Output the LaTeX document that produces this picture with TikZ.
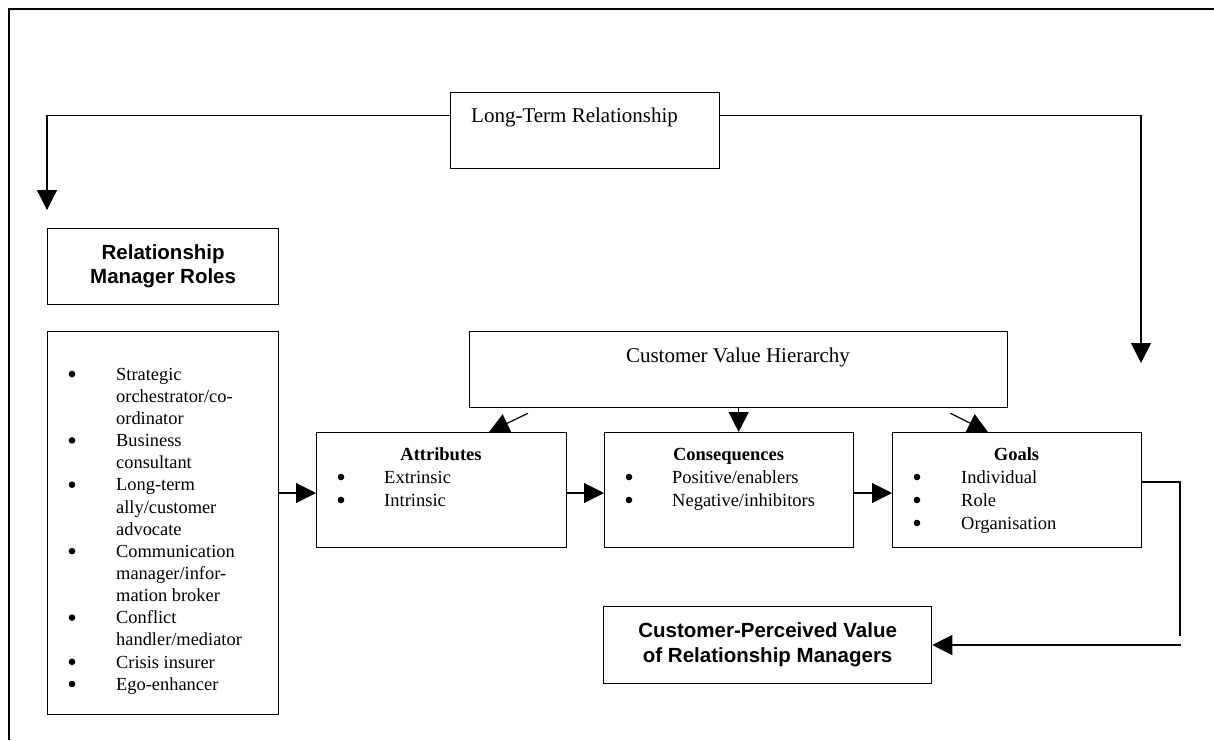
\documentclass[tikz,border=0pt]{standalone}
\usepackage{fontspec}
\setmainfont{Liberation Serif}
\newfontfamily\arialfont{Liberation Sans}
\usetikzlibrary{arrows.meta}
\begin{document}
\begin{tikzpicture}[x=1pt,y=-1pt,
  box/.style={draw, line width=1.3pt, inner sep=0pt, anchor=north west},
  conn/.style={line width=1.2pt},
  arr/.style={conn, -{Triangle[length=20pt,width=20pt]}},
  big/.style={font=\fontsize{21}{25}\selectfont, inner sep=0pt},
  sml/.style={font=\fontsize{18.5}{23}\selectfont, inner sep=0pt},
  head/.style={font=\fontsize{18.5}{23}\selectfont\bfseries, inner sep=0pt, anchor=base},
  itm/.style={sml, anchor=base west},
  dotstyle/.style={fill=black},
  sanshead/.style={font=\arialfont\bfseries\fontsize{20.5}{24.5}\selectfont}
]
\useasboundingbox (0,0) rectangle (1214,740);
% outer frame
\draw[line width=1.3pt] (9,740) -- (9,9) -- (1214,9);

% boxes
\node[box, minimum width=269pt, minimum height=76pt] (ltr) at (450,92) {};
\node[big, anchor=base west] (ltrtext) at (471,122) {Long-Term Relationship};

\node[box, minimum width=231pt, minimum height=76pt, sanshead] (rmr) at (47,228)
  {\begin{tabular}{@{}c@{}}Relationship\\Manager Roles\end{tabular}};

\node[box, minimum width=231pt, minimum height=383pt] (roles) at (47,331) {};
\node[anchor=north west, inner sep=0pt, font=\fontsize{18.4}{22.14}\selectfont] (rolestext) at (116,364.5)
  {\begin{tabular}{@{}l@{}}
  Strategic\\
  orchestrator/co-\\
  ordinator\\
  Business\\
  consultant\\
  Long-term\\
  ally/customer\\
  advocate\\
  Communication\\
  manager/infor-\\
  mation broker\\
  Conflict\\
  handler/mediator\\
  Crisis insurer\\
  Ego-enhancer
  \end{tabular}};
\foreach \k in {0,3,5,8,11,13,14}
  \fill[dotstyle] (72,{374+22.14*\k}) circle (3.3pt);

\node[box, minimum width=538pt, minimum height=76pt] (cvh) at (469,331) {};
\node[big, anchor=base] (cvhtext) at (738,362) {Customer Value Hierarchy};

\node[box, minimum width=250pt, minimum height=115pt] (attr) at (316,432) {};
\node[head] (attrh) at (441,460) {Attributes};
\node[itm] (ai1) at (384,483) {Extrinsic};
\node[itm] (ai2) at (384,506) {Intrinsic};
\fill[dotstyle] (341,477) circle (3.3pt) (341,500) circle (3.3pt);

\node[box, minimum width=249pt, minimum height=115pt] (cons) at (604,432) {};
\node[head] (consh) at (728.5,460) {Consequences};
\node[itm] (ci1) at (672,483) {Positive/enablers};
\node[itm] (ci2) at (672,506) {Negative/inhibitors};
\fill[dotstyle] (629,477) circle (3.3pt) (629,500) circle (3.3pt);

\node[box, minimum width=249pt, minimum height=115pt] (goals) at (892,432) {};
\node[head] (goalsh) at (1016.5,460) {Goals};
\node[itm] (gi1) at (961,483) {Individual};
\node[itm] (gi2) at (961,506) {Role};
\node[itm] (gi3) at (961,529) {Organisation};
\fill[dotstyle] (917,477) circle (3.3pt) (917,500) circle (3.3pt) (917,523) circle (3.3pt);

\node[box, minimum width=328pt, minimum height=77pt, sanshead] (cpv) at (603,606)
  {\begin{tabular}{@{}c@{}}Customer-Perceived Value\\of Relationship Managers\end{tabular}};

% connectors
\coordinate (tipL) at (47,210);
\coordinate (tipR) at (1141,363);
\draw[arr] ([yshift=15pt]ltr.west) -| (tipL);
\draw[arr] ([yshift=15pt]ltr.east) -| (tipR);

\coordinate (row) at (0,493);
\draw[arr] (roles.east |- row) -- (attr.west |- row);
\draw[arr] (attr.east |- row) -- (cons.west |- row);
\draw[arr] (cons.east |- row) -- (goals.west |- row);

\draw[arr] ([xshift=59pt,yshift=-5pt]cvh.south west) -- ([xshift=173pt]attr.north west);
\draw[arr] (cvh.south) -- (cvh.south |- cons.north);
\draw[arr] ([xshift=-58pt,yshift=-5pt]cvh.south east) -- ([xshift=96pt]goals.north west);

\coordinate (gr) at (1180,482);
\coordinate (gbot) at (1180,636);
\draw[conn] (goals.east |- gr) -- (gr) -- (gbot);
\coordinate (cr) at (1181,645);
\draw[arr] (cr) -- (cpv.east |- cr);
\end{tikzpicture}
\end{document}
